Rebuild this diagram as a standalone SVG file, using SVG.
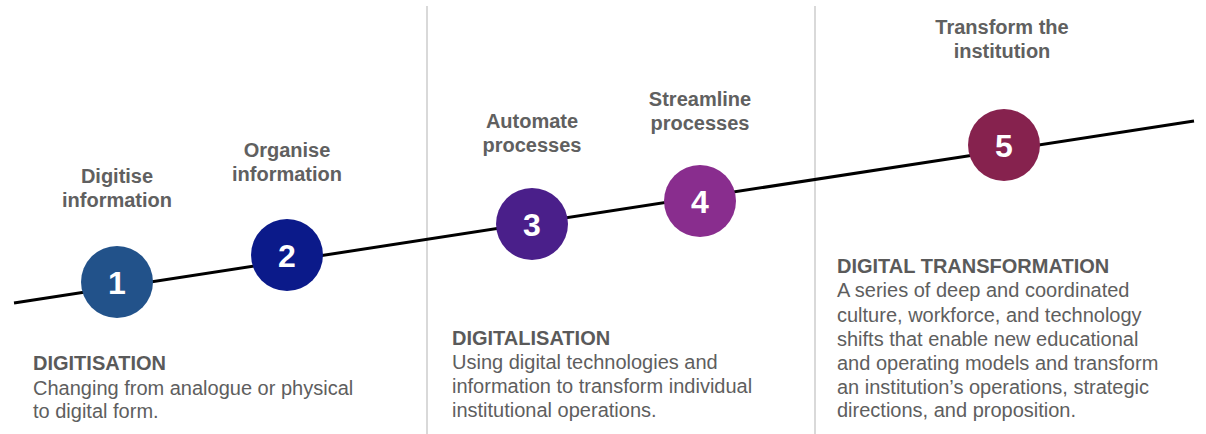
<svg xmlns="http://www.w3.org/2000/svg" width="1206" height="434" viewBox="0 0 1206 434">
<style>
.lbl{font-family:"Liberation Sans",Arial,sans-serif;font-weight:bold;font-size:20px;fill:#606060;text-anchor:middle}
.num{font-family:"Liberation Sans",Arial,sans-serif;font-weight:bold;font-size:32px;fill:#fff;text-anchor:middle}
.hd{font-family:"Liberation Sans",Arial,sans-serif;font-weight:bold;font-size:20px;fill:#5a5a5a}
.body{font-family:"Liberation Sans",Arial,sans-serif;font-size:20px;fill:#5e5e5e}
.div{stroke:#d9d9d9;stroke-width:2}
</style>
<rect width="1206" height="434" fill="#fff"/>
<g id="dividers">
<line class="div" x1="427" y1="6" x2="427" y2="434"/>
<line class="div" x1="815" y1="6" x2="815" y2="434"/>
</g>
<g id="connectors">
<line x1="14" y1="303" x2="1194" y2="121" stroke="#000" stroke-width="3"/>
</g>
<g id="step1">
<circle cx="117" cy="282" r="36" fill="#22528A"/>
<text class="num" x="117" y="294">1</text>
<text class="lbl" x="117" y="183">Digitise</text>
<text class="lbl" x="117" y="207">information</text>
</g>
<g id="step2">
<circle cx="287" cy="255" r="36" fill="#0B1A8A"/>
<text class="num" x="287" y="267">2</text>
<text class="lbl" x="287" y="157">Organise</text>
<text class="lbl" x="287" y="181">information</text>
</g>
<g id="step3">
<circle cx="532" cy="224" r="36" fill="#4A1F8A"/>
<text class="num" x="532" y="236">3</text>
<text class="lbl" x="532" y="128">Automate</text>
<text class="lbl" x="532" y="152">processes</text>
</g>
<g id="step4">
<circle cx="700" cy="201" r="36" fill="#892D8E"/>
<text class="num" x="700" y="213">4</text>
<text class="lbl" x="700" y="106">Streamline</text>
<text class="lbl" x="700" y="130">processes</text>
</g>
<g id="step5">
<circle cx="1004" cy="145" r="36" fill="#86224E"/>
<text class="num" x="1004" y="157">5</text>
<text class="lbl" x="1002" y="34">Transform the</text>
<text class="lbl" x="1002" y="58">institution</text>
</g>
<g id="digitisation">
<text class="hd" x="33" y="370">DIGITISATION</text>
<text class="body" x="33" y="395">Changing from analogue or physical</text>
<text class="body" x="33" y="418">to digital form.</text>
</g>
<g id="digitalisation">
<text class="hd" x="452" y="345">DIGITALISATION</text>
<text class="body" x="452" y="369">Using digital technologies and</text>
<text class="body" x="452" y="393">information to transform individual</text>
<text class="body" x="452" y="417">institutional operations.</text>
</g>
<g id="transformation">
<text class="hd" x="837" y="273">DIGITAL TRANSFORMATION</text>
<text class="body" x="837" y="297">A series of deep and coordinated</text>
<text class="body" x="837" y="322">culture, workforce, and technology</text>
<text class="body" x="837" y="346">shifts that enable new educational</text>
<text class="body" x="837" y="370">and operating models and transform</text>
<text class="body" x="837" y="394">an institution’s operations, strategic</text>
<text class="body" x="837" y="417">directions, and proposition.</text>
</g>
</svg>
